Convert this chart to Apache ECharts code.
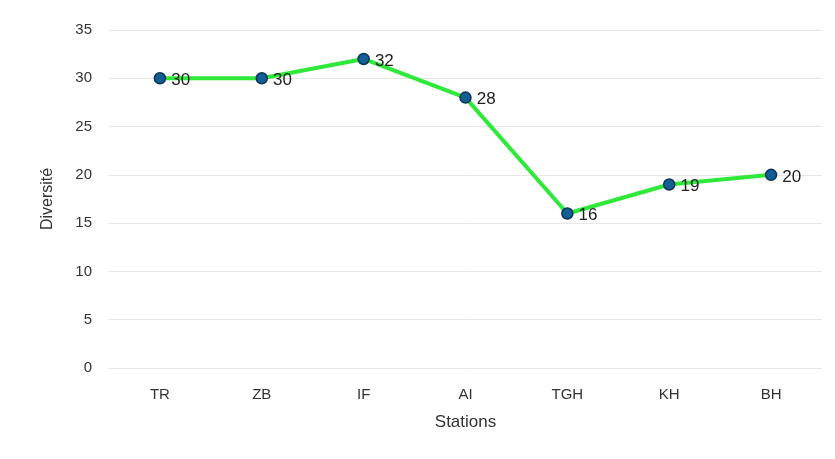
<!DOCTYPE html>
<html>
<head>
<meta charset="utf-8">
<script src="https://cdn.jsdelivr.net/npm/echarts@6/dist/echarts.min.js"></script>
<style>
  html, body { margin: 0; padding: 0; background: #fff; }
  #chart { width: 835px; height: 459px; }
</style>
</head>
<body>
<div id="chart"></div>
<script>
  var stations = ['TR', 'ZB', 'IF', 'AI', 'TGH', 'KH', 'BH'];
  var diversite = [30, 30, 32, 28, 16, 19, 20];

  var myChart = echarts.init(document.getElementById('chart'));
  var option = {
    backgroundColor: '#ffffff',
    textStyle: { fontFamily: 'Liberation Sans, Arial, sans-serif' },
    grid: { left: 109, right: 13, top: 30, bottom: 91 },
    xAxis: {
      type: 'category',
      data: stations,
      name: 'Stations',
      nameLocation: 'middle',
      nameGap: 46,
      nameTextStyle: { fontSize: 17, color: '#333' },
      axisLine: { show: false },
      axisTick: { show: false },
      axisLabel: { fontSize: 15, color: '#333', margin: 19 }
    },
    yAxis: {
      type: 'value',
      min: 0,
      max: 35,
      interval: 5,
      name: 'Diversité',
      nameLocation: 'middle',
      nameGap: 53,
      nameTextStyle: { fontSize: 16, color: '#333' },
      axisLine: { show: false },
      axisTick: { show: false },
      axisLabel: { fontSize: 15, color: '#333', margin: 17 },
      splitLine: { lineStyle: { color: '#e9e7e2', width: 1 } }
    },
    series: [
      {
        name: 'Diversité',
        type: 'line',
        data: diversite,
        symbol: 'circle',
        symbolSize: 11,
        lineStyle: { color: '#2ee83a', width: 4 },
        itemStyle: { color: '#135e94', borderColor: '#0b3556', borderWidth: 1.5 },
        label: {
          show: true,
          position: 'right',
          distance: 5,
          offset: [0, 2],
          fontSize: 17,
          color: '#222'
        },
        z: 3
      }
    ]
  };
  option && myChart.setOption(option, true);
</script>
</body>
</html>
